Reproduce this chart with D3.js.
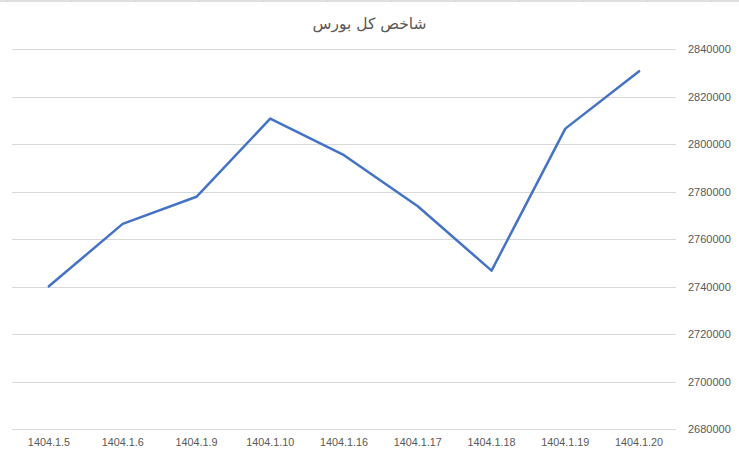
<!DOCTYPE html>
<html>
<head>
<meta charset="utf-8">
<script src="https://cdn.jsdelivr.net/npm/d3@7"></script>
<style>
html,body{margin:0;padding:0;background:#fff;}
svg{display:block;}
</style>
</head>
<body>
<svg id="chart" width="739" height="459"></svg>
<script>
const title = "شاخص کل بورس";
const categories = ["1404.1.5","1404.1.6","1404.1.9","1404.1.10","1404.1.16","1404.1.17","1404.1.18","1404.1.19","1404.1.20"];
const values = [2740200, 2766500, 2777900, 2810800, 2795400, 2773900, 2746800, 2806600, 2830800];
const yTicks = [2680000, 2700000, 2720000, 2740000, 2760000, 2780000, 2800000, 2820000, 2840000];

const W = 739, H = 459;
const m = {left: 12, right: 676, top: 49.3, bottom: 429.3};
const svg = d3.select("#chart");

// spreadsheet cell borders at top edge
const border = svg.append("g");
border.append("line").attr("x1",0).attr("x2",W).attr("y1",1).attr("y2",1)
  .attr("stroke","#d4d4d4").attr("stroke-width",1.5);
for (let bx = 7; bx < W; bx += 64) {
  border.append("line").attr("x1",bx).attr("x2",bx).attr("y1",0).attr("y2",2)
    .attr("stroke","#d4d4d4").attr("stroke-width",1);
}

const x = d3.scaleBand().domain(categories).range([m.left, m.right]);
const y = d3.scaleLinear().domain([2680000, 2840000]).range([m.bottom, m.top]);

// gridlines
svg.append("g").selectAll("line").data(yTicks).join("line")
  .attr("x1", m.left).attr("x2", m.right)
  .attr("y1", d => Math.round(y(d)) + 0.5).attr("y2", d => Math.round(y(d)) + 0.5)
  .attr("stroke", "#d9d9d9").attr("stroke-width", 1);

// right axis labels
const yAxis = d3.axisRight(y).tickValues(yTicks).tickSize(0).tickPadding(12).tickFormat(d => String(d));
const ya = svg.append("g").attr("transform", `translate(${m.right},0)`).call(yAxis);
ya.select(".domain").remove();
ya.selectAll("text").attr("fill","#595959").style("font-family","'Liberation Sans', Arial, sans-serif").style("font-size","11px");

// bottom axis labels
const xAxis = d3.axisBottom(x).tickSize(0).tickPadding(9);
const xa = svg.append("g").attr("transform", `translate(0,${m.bottom})`).call(xAxis);
xa.select(".domain").remove();
xa.selectAll("text").attr("fill","#595959").style("font-family","'Liberation Sans', Arial, sans-serif").style("font-size","10.8px");

// line
const line = d3.line().x((d,i) => x(categories[i]) + x.bandwidth()/2).y(d => y(d));
svg.append("path").datum(values).attr("d", line)
  .attr("fill","none").attr("stroke","#4472C4").attr("stroke-width",2.5)
  .attr("stroke-linejoin","round").attr("stroke-linecap","round");

// title
svg.append("text").attr("x", 369.5).attr("y", 24).attr("text-anchor","middle")
  .attr("dominant-baseline","central").attr("direction","rtl")
  .attr("fill","#595959").style("font-family","'DejaVu Sans', sans-serif").style("font-size","15.5px")
  .text(title);
</script>
</body>
</html>
